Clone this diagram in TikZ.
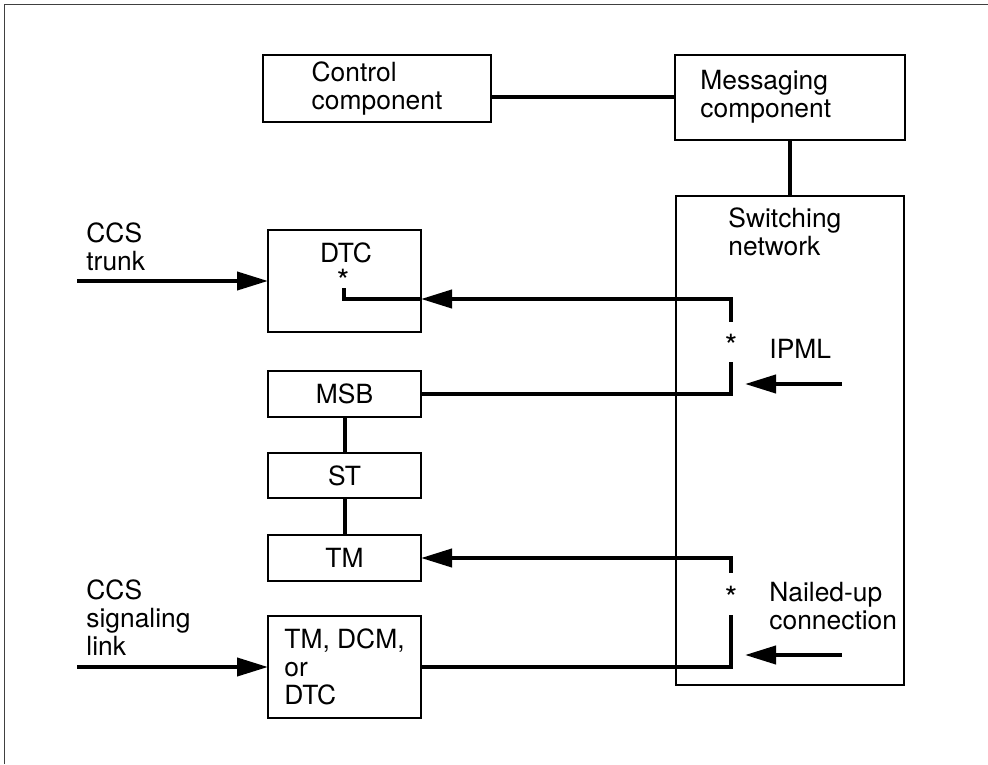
\documentclass[tikz,border=0pt]{standalone}
\usepackage{fontspec}
\setmainfont{TeX Gyre Heros}
\usetikzlibrary{positioning, arrows.meta}

\begin{document}
\begin{tikzpicture}[x=0.5pt, y=-0.5pt,
    blk/.style = {draw, line width=1pt, inner sep=0pt, outer sep=0pt, align=left, font=\fontsize{13.2}{14}\selectfont},
    lbl/.style = {inner sep=0pt, align=left, font=\fontsize{13.2}{14}\selectfont},
    ast/.style = {inner sep=0pt, text height=1.5em, text depth=0pt, font=\fontsize{16}{16}\selectfont},
    conn/.style = {line width=2pt},
    arr/.style = {conn, -{Triangle[length=15.5pt, width=9pt]}}]
    \useasboundingbox (0,0) rectangle (988,764);
    % page frame
    \draw[line width=0.7pt, black!75] (4.5,764) -- (4.5,4.5) -- (988,4.5);

    % top row
    \node[blk, minimum width=114pt, minimum height=33.5pt] (ctrl) at (377,88.5) {Control\\component};
    \node[blk, minimum width=115pt, minimum height=42.5pt] (msg) at (790,97.5) {};
    \node[lbl, anchor=north west] (msgtxt) at (700,70) {Messaging\\component};

    % switching network
    \node[blk, minimum width=114pt, minimum height=244.5pt] (sw) at (790,440.5) {};
    \node[lbl, anchor=north west] (swtxt) at (728,207) {Switching\\network};

    % left column
    \node[blk, minimum width=76.5pt, minimum height=51pt] (dtc) at (344.5,281) {};
    \node[lbl, anchor=north] (dtctxt) at (346,242) {DTC};
    \node[ast] (dtcast) at (343,277.5) {*};
    \node[blk, minimum width=76.5pt, minimum height=23pt] (msb) at (344.5,394) {MSB};
    \node[blk, minimum width=76.5pt, minimum height=22.5pt] (st) [below = 18pt of msb] {ST};
    \node[blk, minimum width=76.5pt, minimum height=23pt] (tm) [below = 18.5pt of st] {TM};
    \node[blk, minimum width=76.5pt, minimum height=51pt] (tmd) [below = 17.5pt of tm] {TM, DCM,\\or\\DTC};

    % outside labels
    \node[lbl, anchor=north west] (trunktxt) at (86,222) {CCS\\trunk};
    \node[lbl, anchor=north west] (linktxt) at (86,579) {CCS\\signaling\\link};
    \node[lbl, anchor=north west] (ipmltxt) at (769,339) {IPML};
    \node[lbl, anchor=north west] (nutxt) at (769,582) {Nailed-up\\connection};

    % asterisks in the brackets
    \node[ast, minimum height=20pt] (ipast) at (731,342) {*};
    \node[ast, minimum height=21pt] (nuast) at (731,594) {*};

    \coordinate (dtcin) at (731,299);
    \coordinate (dtcend) at (344,288);
    \coordinate (trunkfrom) at (77,281);
    \coordinate (linkfrom) at (77,667);
    \coordinate (ipmlfrom) at (842,384);
    \coordinate (ipmlto) at (745,384);
    \coordinate (nufrom) at (842,655);
    \coordinate (nuto) at (745,655);

    \draw[conn] (ctrl.east |- msg.west) -- (msg.west);
    \draw[conn] (msg) -- (sw);
    \draw[conn] (msb) -- (st);
    \draw[conn] (st) -- (tm);

    \draw[arr] (trunkfrom) -- (dtc.west);
    \draw[arr] (linkfrom) -- (tmd.west);

    \draw[arr] (ipast.north) -- (dtcin) -- (dtc.east |- dtcin);
    \draw[conn] (dtc.east |- dtcin) -| (dtcend);
    \draw[conn] (msb.east) -| (ipast.south);
    \draw[arr] (nuast.north) |- (tm.east);
    \draw[conn] (tmd.east) -| (nuast.south);

    \draw[arr] (ipmlfrom) -- (ipmlto);
    \draw[arr] (nufrom) -- (nuto);
\end{tikzpicture}
\end{document}
